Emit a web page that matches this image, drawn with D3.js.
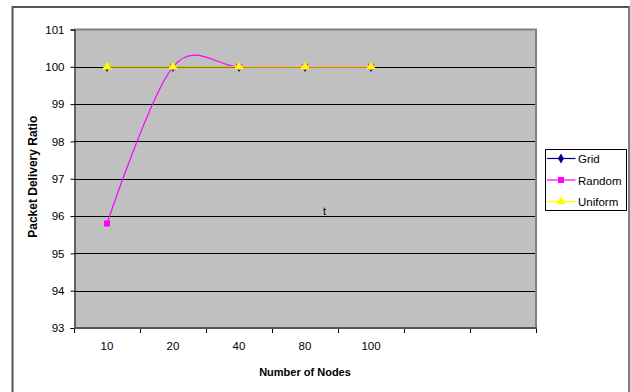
<!DOCTYPE html>
<html>
<head>
<meta charset="utf-8">
<script src="https://cdn.jsdelivr.net/npm/d3@7"></script>
<style>
  body { margin: 0; background: #fff; }
  text { font-family: Arial, "Liberation Sans", sans-serif; fill: #000; }
</style>
</head>
<body>
<div id="chart"></div>
<script>
// Data
const xLabels = ["10", "20", "40", "80", "100", "", ""];
const nodes = ["10", "20", "40", "80", "100"];
const gridValues = [100, 100, 100, 100, 100];
const randomValues = [95.8, 100, 100, 100, 100];
const uniformValues = [100, 100, 100, 100, 100];
const yTicks = [93, 94, 95, 96, 97, 98, 99, 100, 101];

const series = [
    { name: "Grid", values: gridValues, color: "#000080", marker: d3.symbolDiamond, size: 30 },
    { name: "Random", values: randomValues, color: "#FF00FF", marker: d3.symbolSquare, size: 36 },
    { name: "Uniform", values: uniformValues, color: "#FFFF00", marker: d3.symbolTriangle, size: 40 }
];

const W = 630, H = 392;
const plot = { left: 74, right: 536, top: 29.5, bottom: 328 };

const svg = d3.select("#chart")
    .append("svg")
    .attr("width", W)
    .attr("height", H);

// Outer chart frame
svg.append("rect")
    .attr("x", 12.5).attr("y", 6.5)
    .attr("width", 616.5).attr("height", 400)
    .attr("fill", "#fff")
    .attr("stroke", "#000");
svg.append("line").attr("x1", 12).attr("x2", 629).attr("y1", 7).attr("y2", 7)
    .attr("stroke", "#555").attr("stroke-width", 2);
svg.append("line").attr("x1", 12.5).attr("x2", 12.5).attr("y1", 6).attr("y2", H)
    .attr("stroke", "#555").attr("stroke-width", 2);

// Scales
const x = d3.scaleBand()
    .domain(d3.range(xLabels.length))
    .range([plot.left, plot.right]);

const y = d3.scaleLinear()
    .domain([93, 101])
    .range([plot.bottom, plot.top]);

// Plot area
svg.append("rect")
    .attr("x", plot.left)
    .attr("y", plot.top)
    .attr("width", plot.right - plot.left)
    .attr("height", plot.bottom - plot.top)
    .attr("fill", "#C0C0C0");

// Horizontal gridlines
svg.append("g")
    .selectAll("line")
    .data(yTicks.filter(t => t > 93 && t < 101))
    .join("line")
    .attr("x1", plot.left)
    .attr("x2", plot.right)
    .attr("y1", d => Math.round(y(d)) + 0.5)
    .attr("y2", d => Math.round(y(d)) + 0.5)
    .attr("stroke", "#000");

// Plot border (top and right) in gray
svg.append("path")
    .attr("d", `M${plot.left},${plot.top} H${plot.right} V${plot.bottom}`)
    .attr("fill", "none")
    .attr("stroke", "#808080")
    .attr("stroke-width", 2);

// Y axis
const yAxis = svg.append("g")
    .attr("transform", `translate(${plot.left + 0.5},0)`)
    .call(d3.axisLeft(y).tickValues(yTicks).tickSize(4).tickPadding(6).tickFormat(d3.format("d")));
yAxis.select(".domain").attr("stroke", "#000");
yAxis.selectAll(".tick line").attr("stroke", "#000");
yAxis.selectAll("text").style("font-size", "11.5px").attr("font-family", null);

// X axis: labels centred in categories, ticks on category boundaries
const xAxis = svg.append("g")
    .attr("transform", `translate(0,${plot.bottom})`)
    .call(d3.axisBottom(x).tickSize(0).tickPadding(14).tickFormat(i => xLabels[i]));
xAxis.select(".domain").remove();
xAxis.selectAll("text").style("font-size", "11.5px").attr("font-family", null);

svg.append("g")
    .selectAll("line")
    .data(d3.range(xLabels.length + 1))
    .join("line")
    .attr("x1", i => Math.round(plot.left + i * x.step()) + 0.5)
    .attr("x2", i => Math.round(plot.left + i * x.step()) + 0.5)
    .attr("y1", plot.bottom)
    .attr("y2", plot.bottom + 5)
    .attr("stroke", "#000");

svg.append("line")
    .attr("x1", plot.left).attr("x2", plot.right + 1)
    .attr("y1", plot.bottom).attr("y2", plot.bottom)
    .attr("stroke", "#555")
    .attr("stroke-width", 2);

// Axis titles
svg.append("text")
    .attr("x", (plot.left + plot.right) / 2)
    .attr("y", 375.5)
    .attr("text-anchor", "middle")
    .style("font-size", "11px")
    .style("font-weight", "bold")
    .text("Number of Nodes");

svg.append("text")
    .attr("transform", `translate(37,${(plot.top + plot.bottom) / 2 - 2}) rotate(-90)`)
    .attr("text-anchor", "middle")
    .style("font-size", "12px")
    .style("font-weight", "bold")
    .text("Packet Delivery Ratio");

// Stray text label inside the plot
svg.append("text")
    .attr("x", 323)
    .attr("y", 214.5)
    .style("font-size", "11px")
    .text("t");

// Lines and markers
const cx = i => x(i) + x.bandwidth() / 2;
const line = d3.line()
    .x((d, i) => cx(i))
    .y(d => y(d))
    .curve(d3.curveCardinal.tension(0));

series.forEach(s => {
    svg.append("path")
        .datum(s.values)
        .attr("fill", "none")
        .attr("stroke", s.color)
        .attr("stroke-width", 1.2)
        .attr("d", line);
});

series.forEach(s => {
    svg.append("g")
        .selectAll("path")
        .data(s.values)
        .join("path")
        .attr("transform", (d, i) => `translate(${cx(i)},${y(d)})`)
        .attr("d", d3.symbol().type(s.marker).size(s.size))
        .attr("fill", s.color);
});

// Legend
const legend = svg.append("g").attr("transform", "translate(545.5,149.5)");
legend.append("rect")
    .attr("width", 81)
    .attr("height", 61)
    .attr("fill", "#fff")
    .attr("stroke", "#000");

series.forEach((s, i) => {
    const row = legend.append("g")
        .attr("transform", `translate(0,${9 + i * 21.5})`);
    row.append("line")
        .attr("x1", 1.5).attr("x2", 30)
        .attr("stroke", s.color)
        .attr("stroke-width", 1.2);
    row.append("path")
        .attr("transform", "translate(15.5,0)")
        .attr("d", d3.symbol().type(s.marker).size(s.size))
        .attr("fill", s.color);
    row.append("text")
        .attr("x", 32.5)
        .attr("y", 4.5)
        .style("font-size", "11.5px")
        .text(s.name);
});
</script>
</body>
</html>
